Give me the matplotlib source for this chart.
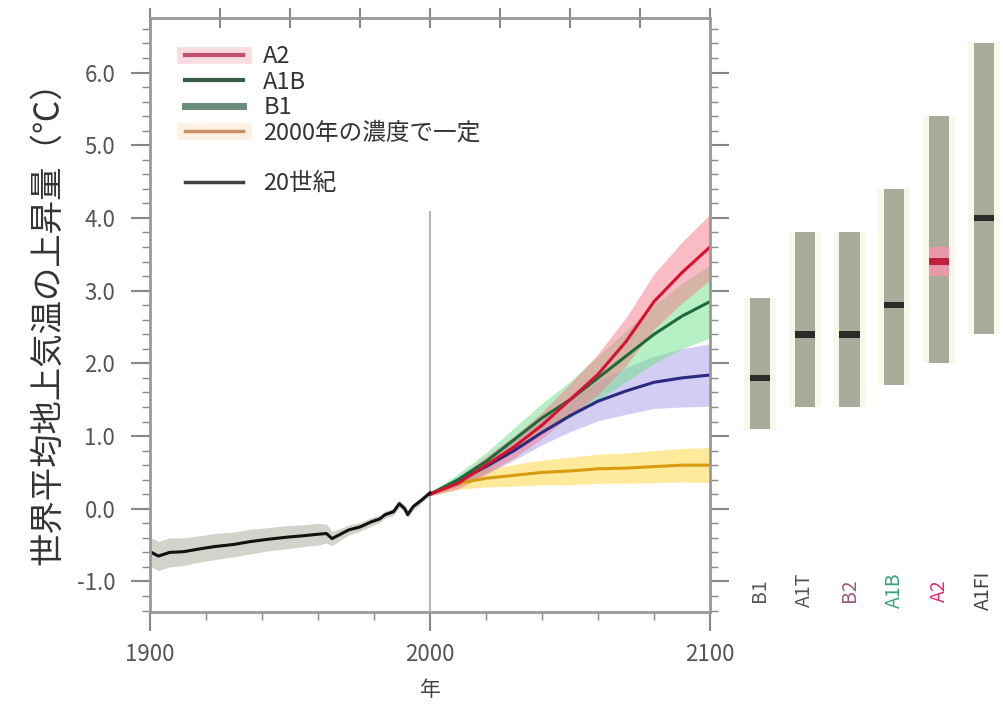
import matplotlib
matplotlib.use('Agg')
import matplotlib.pyplot as plt
from matplotlib.lines import Line2D
from matplotlib.legend_handler import HandlerTuple
from matplotlib.ticker import MultipleLocator

plt.rcParams['font.family'] = ['Noto Sans CJK JP', 'DejaVu Sans']

# 20th century observed/modelled mean
hist_years = [1900, 1903, 1907, 1912, 1918, 1923, 1930, 1936, 1942, 1949, 1955, 1960, 1963, 1965, 1968,
              1971, 1975, 1979, 1982, 1984, 1987, 1989, 1991, 1992, 1994, 1997, 2000]
hist_temp = [-0.59, -0.65, -0.6, -0.59, -0.55, -0.52, -0.49, -0.45, -0.42, -0.39, -0.37, -0.35, -0.34,
             -0.41, -0.35, -0.29, -0.25, -0.18, -0.14, -0.08, -0.04, 0.07, 0.0, -0.08, 0.03, 0.12, 0.22]
hist_spread = [0.2, 0.2, 0.2, 0.19, 0.18, 0.18, 0.17, 0.17, 0.16, 0.16, 0.15, 0.15, 0.13,
               0.1, 0.08, 0.07, 0.06, 0.06, 0.05, 0.05, 0.05, 0.05, 0.05, 0.05, 0.05, 0.04, 0.03]

# scenario projections
scen_years = [2000, 2010, 2020, 2030, 2040, 2050, 2060, 2070, 2080, 2090, 2100]
a2 = [0.2, 0.35, 0.6, 0.85, 1.15, 1.5, 1.85, 2.3, 2.85, 3.25, 3.6]
a2_spread = [0.02, 0.08, 0.12, 0.15, 0.18, 0.22, 0.28, 0.33, 0.38, 0.42, 0.45]
a1b = [0.2, 0.4, 0.65, 0.95, 1.25, 1.5, 1.8, 2.1, 2.4, 2.65, 2.85]
a1b_spread = [0.02, 0.08, 0.12, 0.16, 0.2, 0.25, 0.3, 0.35, 0.4, 0.45, 0.5]
b1 = [0.2, 0.38, 0.58, 0.8, 1.05, 1.28, 1.48, 1.62, 1.74, 1.8, 1.84]
b1_spread = [0.02, 0.07, 0.1, 0.13, 0.17, 0.22, 0.27, 0.32, 0.36, 0.4, 0.43]
const = [0.2, 0.35, 0.42, 0.46, 0.5, 0.52, 0.55, 0.56, 0.58, 0.6, 0.6]
const_spread = [0.02, 0.08, 0.12, 0.15, 0.17, 0.19, 0.2, 0.21, 0.22, 0.23, 0.24]

# likely ranges at 2090-2099 (right panel)
bar_names = ['B1', 'A1T', 'B2', 'A1B', 'A2', 'A1FI']
bar_low = [1.1, 1.4, 1.4, 1.7, 2.0, 2.4]
bar_high = [2.9, 3.8, 3.8, 4.4, 5.4, 6.4]
bar_best = [1.8, 2.4, 2.4, 2.8, 3.4, 4.0]
bar_label_colors = ['#555555', '#555555', '#a05a78', '#3aa080', '#e0306a', '#444444']

fig = plt.figure(figsize=(10.04, 7.06), dpi=100)
ax = fig.add_axes([0.1494, 0.1331, 0.5578, 0.8414])

def band(years, mid, spread, face, alpha):
    lo = [m - s for m, s in zip(mid, spread)]
    hi = [m + s for m, s in zip(mid, spread)]
    ax.fill_between(years, lo, hi, color=face, alpha=alpha, lw=0)

band(hist_years, hist_temp, hist_spread, '#a8a898', 0.5)
band(scen_years, const, const_spread, '#ffd84a', 0.55)
band(scen_years, b1, b1_spread, '#a89ae8', 0.5)
band(scen_years, a1b, a1b_spread, '#6ee08a', 0.5)
band(scen_years, a2, a2_spread, '#f47a8a', 0.5)

ax.vlines(2000, -1.42, 4.1, color='#b8b8b8', lw=1.5, zorder=1)

ax.plot(scen_years, const, color='#d89a10', lw=2.2)
ax.plot(scen_years, b1, color='#2a2a80', lw=2.2)
ax.plot(scen_years, a1b, color='#1e6a3a', lw=2.2)
ax.plot(scen_years, a2, color='#d8102f', lw=2.2)
ax.plot(hist_years, hist_temp, color='#111111', lw=2.2)

ax.set_xlim(1900, 2100)
ax.set_ylim(-1.42, 6.75)
ax.set_xticks([1900, 2000, 2100])
ax.xaxis.set_minor_locator(MultipleLocator(20))
ax.set_yticks([-1, 0, 1, 2, 3, 4, 5, 6])
ax.set_yticklabels(['-1.0', '0.0', '1.0', '2.0', '3.0', '4.0', '5.0', '6.0'])
ax.yaxis.set_minor_locator(MultipleLocator(0.2))
ax.tick_params(which='both', direction='out', top=True, right=True, color='#888888',
               labelsize=16, labelcolor='#555555')
ax.tick_params(which='major', length=14, width=1.5)
ax.tick_params(axis='x', which='both', top=False)
ax.tick_params(axis='y', which='major', pad=11)
ax.tick_params(axis='x', which='major', pad=8)
ax.tick_params(which='minor', length=6, width=1)
ax.secondary_xaxis('top').tick_params(direction='inout', length=14, width=1.5, color='#888888',
                                       labeltop=False)
for s in ax.spines.values():
    s.set_color('#999999')
    s.set_linewidth(2)
ax.set_xlabel('年', fontsize=15, color='#444444', labelpad=10)
ax.set_ylabel('世界平均地上気温の上昇量（℃）', fontsize=24, color='#333333', labelpad=8)

handles = [
    (Line2D([], [], color='#fadbe2', lw=12), Line2D([], [], color='#c0506e', lw=3)),
    Line2D([], [], color='#3c5a48', lw=3),
    Line2D([], [], color='#6a8a7a', lw=5),
    (Line2D([], [], color='#fef0e2', lw=12), Line2D([], [], color='#c89060', lw=2.5)),
    Line2D([], [], color='none'),
    Line2D([], [], color='#404040', lw=2.5),
]
labels = ['A2', 'A1B', 'B1', '2000年の濃度で一定', ' ', '20世紀']
leg = ax.legend(handles, labels, loc='upper left', bbox_to_anchor=(0.025, 0.99), frameon=False,
                handlelength=2.45, handletextpad=0.85, labelspacing=0.1, fontsize=17,
                handler_map={tuple: HandlerTuple(ndivide=1, pad=0)})
for t in leg.get_texts():
    t.set_color('#333333')

ax2 = fig.add_axes([720 / 1004, 0.1331, 284 / 1004, 0.8414], sharey=ax)
ax2.set_xlim(-0.89, 5.45)
pos = list(range(len(bar_names)))
heights = [h - l for h, l in zip(bar_high, bar_low)]
ax2.bar(pos, heights, bottom=bar_low, width=0.72, color='#f8f7ea', lw=0)
ax2.bar(pos, heights, bottom=bar_low, width=0.45, color='#a9aa9a', lw=0)
ax2.bar(4, 0.4, bottom=bar_best[4] - 0.2, width=0.45, color='#e898a8', lw=0)
for i, b in enumerate(bar_best):
    c = '#c02040' if bar_names[i] == 'A2' else '#2a2a2a'
    ax2.bar(i, 0.09, bottom=b - 0.045, width=0.45, color=c, lw=0)
for i, name in enumerate(bar_names):
    ax2.text(i, -1.12, name, rotation=90, ha='center', va='center', fontsize=14,
             color=bar_label_colors[i])
ax2.axis('off')

fig.savefig('out.png', dpi=100)
